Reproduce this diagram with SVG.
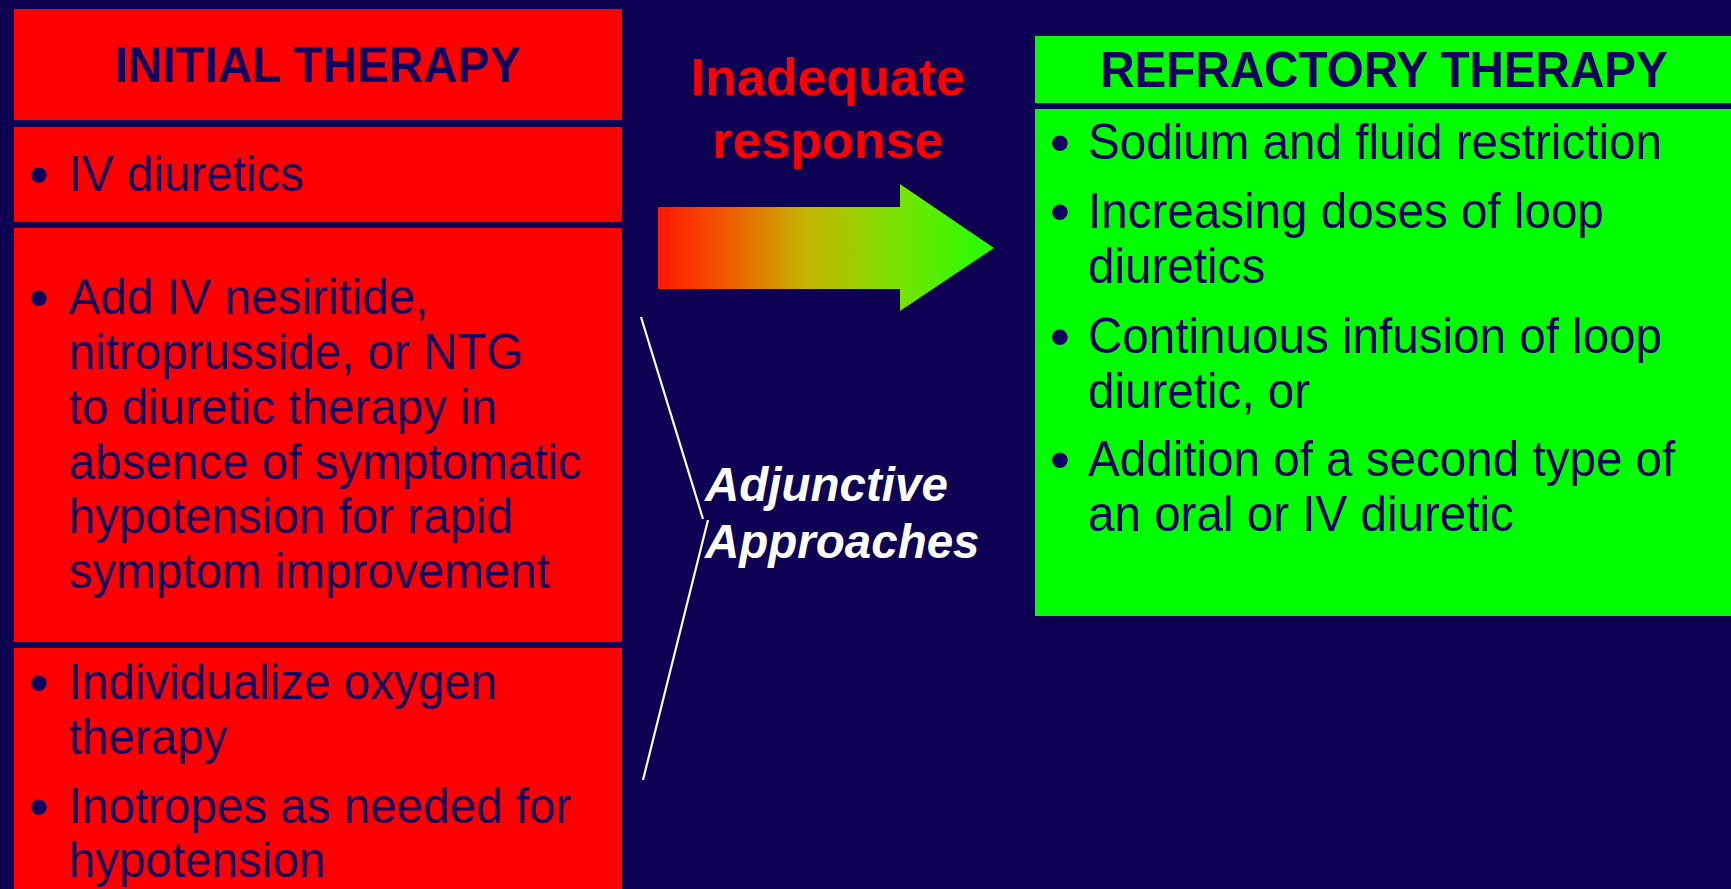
<svg xmlns="http://www.w3.org/2000/svg" width="1731" height="889" viewBox="0 0 1731 889">
<defs>
<style>
.t{font-family:"Liberation Sans",Arial,sans-serif;font-size:47.6px;fill:#12005e}
.h{font-weight:bold;text-anchor:middle}
.b{font-family:"Liberation Sans",Arial,sans-serif;font-size:58px;fill:#12005e;text-anchor:middle}
.red{fill:#ff0000}
.grn{fill:#00ff00}
.lbl{font-family:"Liberation Sans",Arial,sans-serif;font-weight:bold;font-size:52px;fill:#ff0000;text-anchor:middle}
.adj{font-family:"Liberation Sans",Arial,sans-serif;font-weight:bold;font-style:italic;font-size:47.5px;fill:#ffffff}
.ln{stroke:#ffffff;stroke-width:2.2;fill:none}
</style>
<linearGradient id="ag" x1="0" y1="0" x2="1" y2="0">
<stop offset="0" stop-color="#ff1800"/>
<stop offset="0.19" stop-color="#f25500"/>
<stop offset="0.44" stop-color="#c4b400"/>
<stop offset="0.69" stop-color="#80e000"/>
<stop offset="1" stop-color="#20ff00"/>
</linearGradient>
</defs>
<rect width="1731" height="889" fill="#0e0052"/>

<g id="initial-header">
<rect class="red" x="14" y="9" width="608" height="111"/>
<text class="t h" transform="translate(318,82) scale(1,1.06)">INITIAL THERAPY</text>
</g>
<g id="initial-iv">
<rect class="red" x="14" y="127" width="608" height="95"/>
<text class="b" x="39" y="194">•</text>
<text class="t" transform="translate(69,191) scale(1,1.06)">IV diuretics</text>
</g>
<g id="initial-vasodilators">
<rect class="red" x="14" y="228" width="608" height="414"/>
<text class="b" x="39" y="317">•</text>
<text class="t" transform="translate(69,314) scale(1,1.06)">Add IV nesiritide,</text>
<text class="t" transform="translate(69,369) scale(1,1.06)">nitroprusside, or NTG</text>
<text class="t" transform="translate(69,424) scale(1,1.06)">to diuretic therapy in</text>
<text class="t" transform="translate(69,479) scale(1,1.06)">absence of symptomatic</text>
<text class="t" transform="translate(69,533) scale(1,1.06)">hypotension for rapid</text>
<text class="t" transform="translate(69,588) scale(1,1.06)">symptom improvement</text>
</g>
<g id="initial-adjunctive">
<rect class="red" x="14" y="648" width="608" height="250"/>
<text class="b" x="39" y="702">•</text>
<text class="t" transform="translate(69,699) scale(1,1.06)">Individualize oxygen</text>
<text class="t" transform="translate(69,754) scale(1,1.06)">therapy</text>
<text class="b" x="39" y="826">•</text>
<text class="t" transform="translate(69,823) scale(1,1.06)">Inotropes as needed for</text>
<text class="t" transform="translate(69,877) scale(1,1.06)">hypotension</text>
</g>

<g id="refractory-header">
<rect class="grn" x="1035" y="36" width="700" height="67"/>
<text class="t h" transform="translate(1384,87) scale(1,1.06)">REFRACTORY THERAPY</text>
</g>
<g id="refractory-body">
<rect class="grn" x="1035" y="109" width="700" height="507"/>
<text class="b" x="1060" y="162">•</text>
<text class="t" transform="translate(1088,159) scale(1,1.06)">Sodium and fluid restriction</text>
<text class="b" x="1060" y="231">•</text>
<text class="t" transform="translate(1088,228) scale(1,1.06)">Increasing doses of loop</text>
<text class="t" transform="translate(1088,283) scale(1,1.06)">diuretics</text>
<text class="b" x="1060" y="356">•</text>
<text class="t" transform="translate(1088,353) scale(1,1.06)">Continuous infusion of loop</text>
<text class="t" transform="translate(1088,408) scale(1,1.06)">diuretic, or</text>
<text class="b" x="1060" y="479">•</text>
<text class="t" transform="translate(1088,476) scale(1,1.06)">Addition of a second type of</text>
<text class="t" transform="translate(1088,531) scale(1,1.06)">an oral or IV diuretic</text>
</g>

<g id="connectors">
<g id="inadequate-response">
<polygon points="658,207 900,207 900,184 994,248 900,311 900,289 658,289" fill="url(#ag)"/>
<text class="lbl" x="828" y="95">Inadequate</text>
<text class="lbl" x="828" y="158">response</text>
</g>
<g id="adjunctive-bracket">
<line class="ln" x1="641" y1="317" x2="703" y2="519"/>
<line class="ln" x1="708" y1="520" x2="643" y2="780"/>
<text class="adj" x="705" y="501">Adjunctive</text>
<text class="adj" x="705" y="558">Approaches</text>
</g>
</g>
</svg>
